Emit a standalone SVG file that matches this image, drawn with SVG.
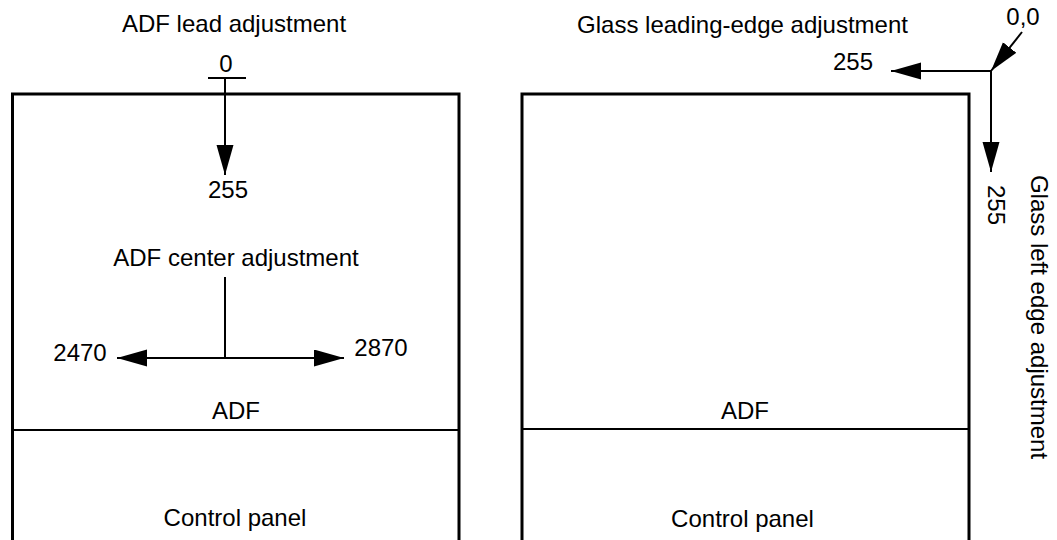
<svg xmlns="http://www.w3.org/2000/svg" width="1057" height="540" viewBox="0 0 1057 540">
<style>
text{font-family:"Liberation Sans",Arial,sans-serif;font-size:24px;fill:#000}
.box{fill:none;stroke:#000;stroke-width:3}
.div{stroke:#000;stroke-width:2}
.ln{stroke:#000;stroke-width:2;fill:none}
.ar{stroke:#000;stroke-width:2;fill:none;marker-end:url(#ah)}
</style>
<defs>
<marker id="ah" markerUnits="userSpaceOnUse" markerWidth="31" markerHeight="18" refX="30" refY="8.5" orient="auto">
<path d="M0,0 L30,8.5 L0,17 z" fill="#000"/>
</marker>
</defs>
<g id="left-panel">
<rect class="box" x="12.5" y="94" width="446.5" height="460"/>
<line class="div" x1="12.5" y1="430" x2="459" y2="430"/>
<text x="236" y="419" text-anchor="middle">ADF</text>
<text x="235" y="526" text-anchor="middle">Control panel</text>
</g>
<g id="right-panel">
<rect class="box" x="522" y="94" width="447" height="460"/>
<line class="div" x1="522" y1="429" x2="969" y2="429"/>
<text x="745" y="419" text-anchor="middle">ADF</text>
<text x="742.5" y="527" text-anchor="middle">Control panel</text>
</g>
<g id="labels">
<text x="234" y="32" text-anchor="middle">ADF lead adjustment</text>
<text x="226" y="72" text-anchor="middle">0</text>
<text x="228" y="198" text-anchor="middle">255</text>
<text x="236" y="266" text-anchor="middle">ADF center adjustment</text>
<text x="80" y="361" text-anchor="middle">2470</text>
<text x="381" y="356" text-anchor="middle">2870</text>
<text x="742.5" y="33" text-anchor="middle">Glass leading-edge adjustment</text>
<text x="1023" y="25" text-anchor="middle">0,0</text>
<text x="853" y="70" text-anchor="middle">255</text>
<text x="0" y="0" text-anchor="middle" transform="translate(988,205) rotate(90)">255</text>
<text x="0" y="0" text-anchor="middle" transform="translate(1031,317) rotate(90)">Glass left edge adjustment</text>
</g>
<g id="connectors">
<line class="ln" x1="208" y1="78" x2="246" y2="78"/>
<line class="ar" x1="225" y1="78" x2="225" y2="175"/>
<line class="ln" x1="225" y1="277" x2="225" y2="358"/>
<line class="ar" x1="225" y1="358" x2="117" y2="358"/>
<line class="ar" x1="225" y1="358" x2="344" y2="358"/>
<line class="ar" x1="1022" y1="32" x2="991" y2="71"/>
<line class="ar" x1="991" y1="71" x2="891" y2="71"/>
<line class="ar" x1="991" y1="71" x2="991" y2="172"/>
</g>
</svg>
